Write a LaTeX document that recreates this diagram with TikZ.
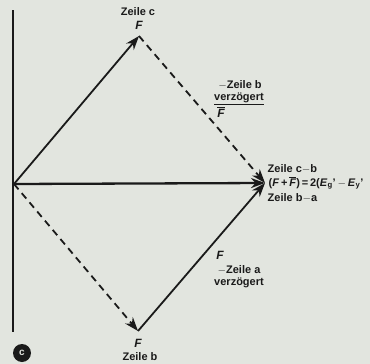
\documentclass[tikz,border=0pt]{standalone}
\usepackage{fontspec}
\setmainfont{Liberation Sans}
\usetikzlibrary{arrows.meta}
\definecolor{paper}{HTML}{E2E5DF}
\definecolor{ink}{HTML}{1A1A1A}
\begin{document}
\begin{tikzpicture}[x=1pt,y=-1pt,
  vec/.style={draw=ink,line width=1.8pt,-{Stealth[length=14pt,width=10pt]}},
  dvec/.style={vec,dash pattern=on 7pt off 5pt},
  lbl/.style={font=\bfseries\fontsize{11}{12}\selectfont,text=ink,inner sep=0.5pt},
  flbl/.style={font=\bfseries\itshape\fontsize{12}{13}\selectfont,text=ink,inner sep=0.5pt}]
\fill[paper] (0,0) rectangle (370,364);
\useasboundingbox (0,0) rectangle (370,364);
\coordinate (o) at (14,184);
\coordinate (t) at (139,36);
\coordinate (r) at (265,183);
\coordinate (b) at (138,331);
\coordinate (vt) at (13,10);
\coordinate (vb) at (13,332);
\draw[ink,line width=1.5pt] (vt) -- (vb);
\draw[vec] (o) -- (t);
\draw[vec,line width=2.3pt] (o) -- (r);
\draw[dvec] (o) -- (b);
\draw[dvec] (t) -- (r);
\draw[vec] (b) -- (r);
\node[lbl] (zc) at (138,12) {Zeile c};
\node[flbl] (fc) at (139,25) {F};
\node[lbl] (zb1) at (240,85) {$-$Zeile b};
\node[lbl] (vz1) at (239,99) {\underline{verzögert}};
\node[flbl] (fb1) at (221,112) {$\overline{\mbox{\textbf{\textit{F}}}}$};
\node[lbl,anchor=west] (zcb) at (267,169) {Zeile c$-$b};
\node[lbl,anchor=west] (eq) at (268,183) {(\textit{F}\,+\,$\overline{\mbox{\textbf{\textit{F}}}}$)\,=\,2(\textit{E}$_{\mathbf{g}}$'\,$-$\,\textit{E}$_{\mathbf{y}}$'};
\node[lbl,anchor=west] (zba) at (267,198) {Zeile b$-$a};
\node[flbl] (fa) at (220,255) {F};
\node[lbl] (za) at (239,270) {$-$Zeile a};
\node[lbl] (vz2) at (239,283) {verzögert};
\node[flbl] (fb) at (138,343) {F};
\node[lbl] (zb) at (140,357) {Zeile b};
\node[circle,fill=ink,minimum size=18pt,inner sep=0pt,text=paper,font=\bfseries\fontsize{10}{11}\selectfont] (c) at (22,353) {c};
\end{tikzpicture}
\end{document}
